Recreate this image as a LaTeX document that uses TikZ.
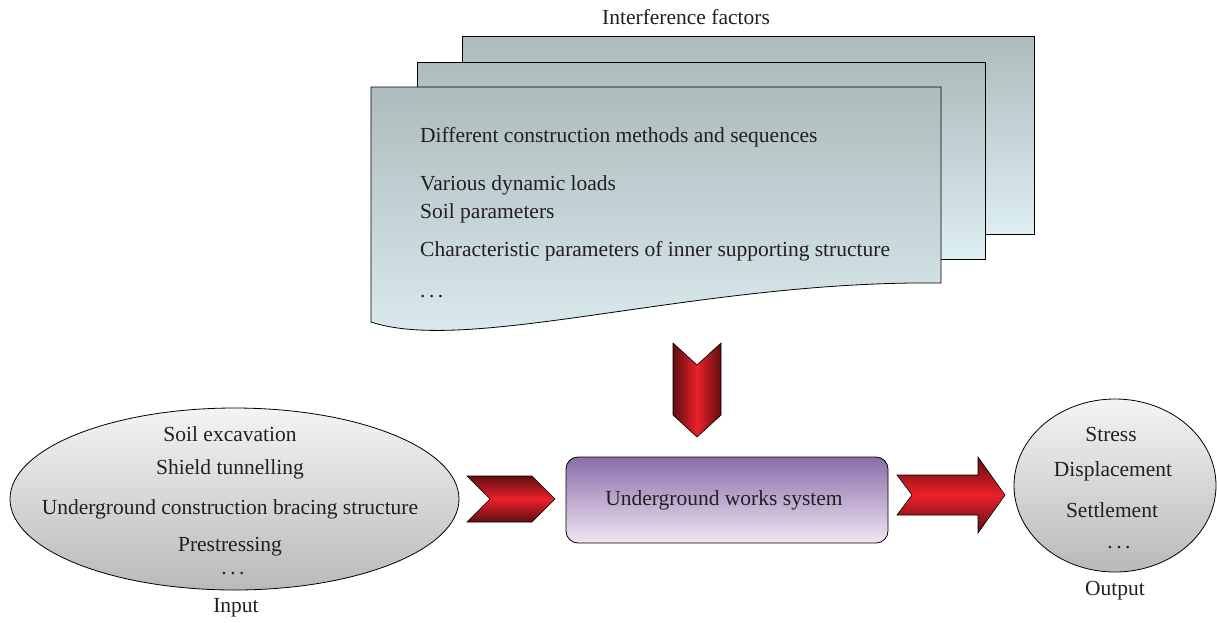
\documentclass[tikz,border=0pt]{standalone}
\usepackage{fontspec}
\setmainfont{Liberation Serif}
\usetikzlibrary{shapes.geometric}
\definecolor{ink}{HTML}{231F20}
\definecolor{sheettop}{HTML}{ADBBBC}
\definecolor{sheetbot}{HTML}{DDEEF1}
\definecolor{redlight}{HTML}{EC2029}
\definecolor{reddark}{HTML}{5E0E10}
\definecolor{boxtop}{HTML}{8A6DAA}
\definecolor{boxbot}{HTML}{F1E6F2}
\definecolor{elltop}{HTML}{F4F4F4}
\definecolor{ellbot}{HTML}{B9B9B9}
\newcommand{\spaceddots}{.\hspace{3.5pt}.\hspace{3.5pt}.}
\tikzset{
  txt/.style={font=\fontsize{21.5}{24}\selectfont, text=ink, inner sep=0pt},
  sheet/.style={draw=black, line width=0.8pt, top color=sheettop, bottom color=sheetbot},
  vchev/.style={draw=black, line width=0.6pt, left color=reddark, right color=reddark, middle color=redlight},
  hchev/.style={draw=black, line width=0.6pt, top color=reddark, bottom color=reddark, middle color=redlight},
  blob/.style={ellipse, draw=black, line width=0.8pt, top color=elltop, bottom color=ellbot, inner sep=0pt},
  sysbox/.style={draw=black, line width=0.8pt, rounded corners=12pt, top color=boxtop, bottom color=boxbot, inner sep=0pt}
}
\begin{document}
\begin{tikzpicture}[x=1pt, y=-1pt]
\useasboundingbox (0,0) rectangle (1217,622);

% stacked sheets of interference factors
\path[sheet] (462,36) -- (1034,36) -- (1034,234) -- (462,234) -- cycle;
\path[sheet] (417,62) -- (985,62) -- (985,259) -- (417,259) -- cycle;
\path[sheet] (371,87) -- (941,87) -- (941,283)
  .. controls (700,280) and (470,355) .. (371,322) -- cycle;

\node[txt] (title) at (686,17) {Interference factors};
\node[txt, anchor=west] (f1) at (420,137) {Different construction methods and sequences};
\node[txt, anchor=west] (f2) at (420,185) {Various dynamic loads};
\node[txt, anchor=west] (f3) at (420,213) {Soil parameters};
\node[txt, anchor=west] (f4) at (420,251) {Characteristic parameters of inner supporting structure};
\node[txt, anchor=base west] (f5) at (420,297) {\spaceddots};

% input ellipse
\node[blob, minimum width=449pt, minimum height=182pt] (input) at (234.5,499) {};
\node[txt] (i1) at (230,434) {Soil excavation};
\node[txt] (i2) at (230,469) {Shield tunnelling};
\node[txt] (i3) at (230,509) {Underground construction bracing structure};
\node[txt] (i4) at (230,547) {Prestressing};
\node[txt, anchor=base] (i5) at (233,574) {\spaceddots};
\node[txt] (inlabel) at (236,608) {Input};

% central system
\node[sysbox, minimum width=322pt, minimum height=86pt] (sys) at (727,500) {};
\node[txt] (systxt) at (724,500) {Underground works system};

% output ellipse
\node[blob, minimum width=202pt, minimum height=173pt] (output) at (1115,485.5) {};
\node[txt] (o1) at (1111,434) {Stress};
\node[txt] (o2) at (1113,471) {Displacement};
\node[txt] (o3) at (1112,510) {Settlement};
\node[txt, anchor=base] (o4) at (1119,548) {\spaceddots};
\node[txt] (outlabel) at (1115,591) {Output};

% chevron from the factors down into the system
\path[vchev] (673,343) -- (697,365) -- (721,343) -- (721,415) -- (697,437) -- (673,415) -- cycle;
% chevron from input into the system
\path[hchev] (467,476) -- (532,476) -- (555,499) -- (532,522) -- (467,522) -- (490,499) -- cycle;
% arrow from the system to the output
\path[hchev] (897,475) -- (978,475) -- (978,457) -- (1005,495) -- (978,533) -- (978,515) -- (897,515) -- (912,495) -- cycle;
\end{tikzpicture}
\end{document}
